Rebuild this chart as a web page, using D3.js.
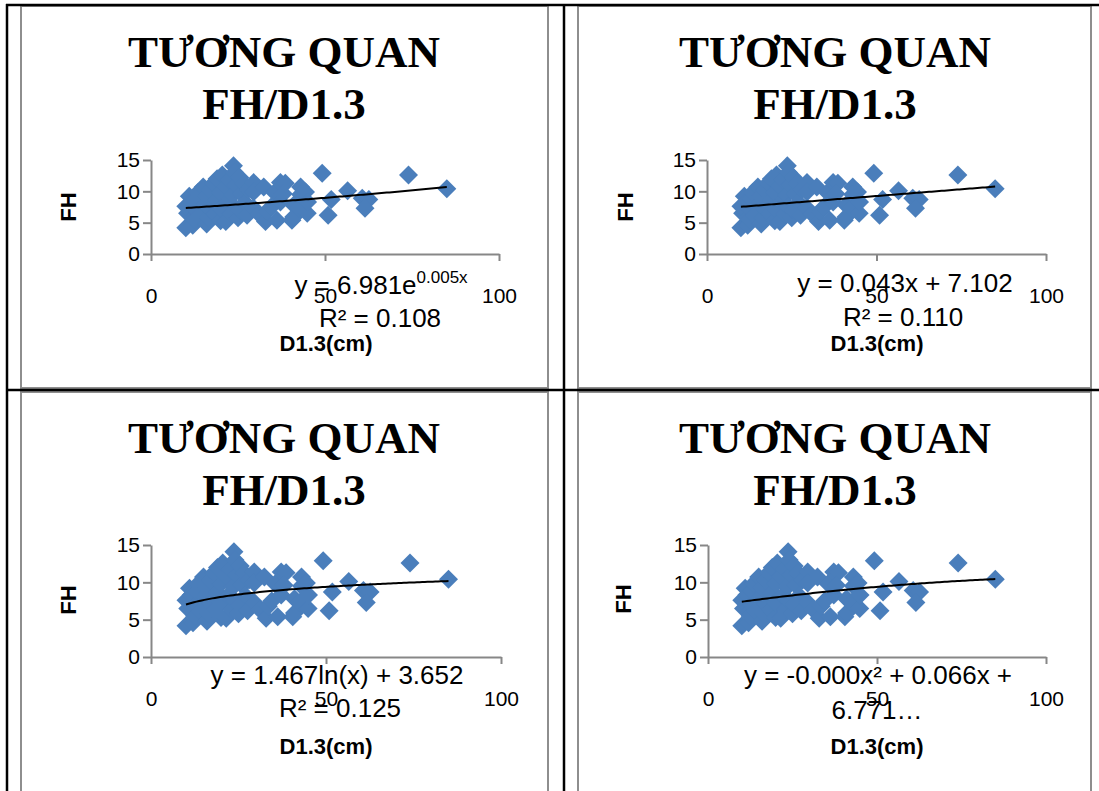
<!DOCTYPE html>
<html>
<head>
<meta charset="utf-8">
<script src="https://cdn.jsdelivr.net/npm/d3@7"></script>
<style>
  html, body { margin: 0; padding: 0; background: #ffffff; }
  svg { display: block; }
</style>
</head>
<body>
<svg id="chart" width="1099" height="791"></svg>
<script>
// ---------------- DATA ----------------
const dVals = [
  10, 10.5, 10, 11, 11.5,
  12, 12.5, 13, 13, 13.5, 14,
  15, 15.5, 16, 16.5, 16, 17, 17,
  18, 18.5, 19, 19, 20, 20, 20.5, 20,
  21.5, 21.5, 22, 22.5, 23, 23.7, 23.5, 24, 24, 24.5,
  25, 25.5, 25.5, 26, 26.6, 27, 27.6, 28,
  29.5, 29.5, 29.5, 31, 32.4, 32.9, 33.5,
  34.5, 35.5, 36.2, 37.2, 37.2, 38.6, 38,
  40.5, 41, 41, 42.5, 43, 43, 44.4, 44.9, 45,
  49.2, 50.9, 51.8,
  56.5, 60.7, 62.6, 61.5, 74, 85
];
const fhVals = [
  4.2, 6.5, 7.6, 9.2, 8.3,
  4.6, 5.5, 7.0, 8.8, 9.8, 6.2,
  10.7, 8.0, 4.8, 5.8, 9.3, 7.2, 10.2,
  11.3, 6.4, 8.6, 12.0, 5.3, 9.8, 12.6, 7.3,
  5.2, 10.8, 8.2, 11.8, 6.4, 14.1, 9.4, 13.0, 7.5, 11.0,
  5.8, 7.0, 12.2, 9.6, 11.3, 8.2, 6.2, 10.3,
  11.4, 7.3, 9.9, 6.4, 10.7, 5.2, 6.8,
  7.5, 9.8, 5.4, 11.4, 8.3, 11.3, 9.6,
  5.4, 7.8, 5.9, 7.3, 10.7, 9.5, 9.9, 6.5, 8.3,
  12.9, 6.2, 8.7,
  10.1, 8.9, 8.7, 7.3, 12.6, 10.4
];
const xTicks = [0, 50, 100];
const yTicks = [0, 5, 10, 15];
const titleLines = ["TƯƠNG QUAN", "FH/D1.3"];
const xAxisTitle = "D1.3(cm)";
const yAxisTitle = "FH";
const trendTypes = ["exp", "linear", "log", "poly"];
const trendCoefs = [[6.981, 0.005], [0.043, 7.102], [1.467, 3.652], [-0.00027, 0.066, 6.771]];
const eqLine1 = [
  [["y = 6.981e", false], ["0.005x", true]],
  [["y = 0.043x + 7.102", false]],
  [["y = 1.467ln(x) + 3.652", false]],
  [["y = -0.000x² + 0.066x +", false]]
];
const eqLine2 = ["R² = 0.108", "R² = 0.110", "R² = 0.125", "6.771…"];

// ---------------- LAYOUT ----------------
const layout = [
  {box: [21, 6, 548, 388],   plot: [151, 499, 254, 160], title: [284, 67, 119],  fh: [68, 207],  xt: [326, 343], eq: [[381, 285], [380, 318]]},
  {box: [578, 6, 1091, 388], plot: [707, 1046, 254, 160], title: [835, 67, 119], fh: [625, 207], xt: [877, 343], eq: [[905, 283], [903, 317]]},
  {box: [21, 392, 548, 800], plot: [151, 501, 657, 545], title: [284, 453, 505], fh: [68, 600],  xt: [326, 746], eq: [[337, 675], [340, 708]]},
  {box: [578, 392, 1091, 800], plot: [708, 1046, 657, 545], title: [835, 453, 505], fh: [623, 599], xt: [877, 746], eq: [[878, 675], [877, 710]]}
];

const svg = d3.select("#chart");
svg.append("rect").attr("width", 1099).attr("height", 791).attr("fill", "#fff");

const grayBorder = "#8e8e8e";
const axisColor = "#878787";
const markerColor = "#4a7ebb";
const sansFont = "'Liberation Sans', Arial, sans-serif";
const serifFont = "'Liberation Serif', 'Times New Roman', serif";

const trendFn = (type, c) => {
  if (type === "exp") return x => c[0] * Math.exp(c[1] * x);
  if (type === "linear") return x => c[0] * x + c[1];
  if (type === "log") return x => c[0] * Math.log(x) + c[1];
  return x => c[0] * x * x + c[1] * x + c[2];
};

const pts = dVals.map((d, i) => ({x: d, y: fhVals[i]}));
const xMin = d3.min(dVals), xMax = d3.max(dVals);

layout.forEach((L, ci) => {
  const g = svg.append("g");
  g.append("rect")
    .attr("x", L.box[0]).attr("y", L.box[1])
    .attr("width", L.box[2] - L.box[0]).attr("height", L.box[3] - L.box[1])
    .attr("fill", "#fff").attr("stroke", grayBorder).attr("stroke-width", 2);

  titleLines.forEach((t, k) => {
    g.append("text")
      .attr("x", L.title[0]).attr("y", L.title[1 + k])
      .attr("text-anchor", "middle")
      .attr("font-family", serifFont).attr("font-weight", "bold")
      .attr("font-size", 45).attr("fill", "#000")
      .text(t);
  });

  const x = d3.scaleLinear().domain([0, 100]).range([L.plot[0], L.plot[1]]);
  const y = d3.scaleLinear().domain([0, 15]).range([L.plot[2], L.plot[3]]);

  const xa = g.append("g").attr("transform", `translate(0,${L.plot[2]})`)
    .call(d3.axisBottom(x).tickValues(xTicks).tickSize(7).tickSizeOuter(0).tickPadding(27).tickFormat(d3.format("d")));
  const ya = g.append("g").attr("transform", `translate(${L.plot[0]},0)`)
    .call(d3.axisLeft(y).tickValues(yTicks).tickSize(8).tickSizeOuter(0).tickPadding(3).tickFormat(d3.format("d")));
  [xa, ya].forEach(a => {
    a.select(".domain").attr("stroke", axisColor).attr("stroke-width", 2);
    a.selectAll(".tick line").attr("stroke", axisColor).attr("stroke-width", 2);
    a.selectAll(".tick text").attr("fill", "#000").attr("font-family", sansFont).attr("font-size", 21);
  });

  g.append("g").selectAll("path").data(pts).enter().append("path")
    .attr("d", d3.symbol(d3.symbolSquare, 180)())
    .attr("transform", d => `translate(${x(d.x)},${y(d.y)}) rotate(45)`)
    .attr("fill", markerColor);

  const f = trendFn(trendTypes[ci], trendCoefs[ci]);
  const samples = d3.range(0, 101).map(i => xMin + (xMax - xMin) * i / 100);
  g.append("path")
    .datum(samples)
    .attr("d", d3.line().x(d => x(d)).y(d => y(f(d))))
    .attr("fill", "none").attr("stroke", "#000").attr("stroke-width", 2);

  g.append("text")
    .attr("transform", `translate(${L.fh[0]},${L.fh[1]}) rotate(-90)`)
    .attr("text-anchor", "middle").attr("dy", "0.35em")
    .attr("font-family", sansFont).attr("font-weight", "bold").attr("font-size", 22)
    .text(yAxisTitle);
  g.append("text")
    .attr("x", L.xt[0]).attr("y", L.xt[1]).attr("dy", "0.35em")
    .attr("text-anchor", "middle")
    .attr("font-family", sansFont).attr("font-weight", "bold").attr("font-size", 22)
    .text(xAxisTitle);

  const e1 = g.append("text")
    .attr("x", L.eq[0][0]).attr("y", L.eq[0][1] + 9)
    .attr("text-anchor", "middle")
    .attr("font-family", sansFont).attr("font-size", 26).attr("fill", "#000");
  eqLine1[ci].forEach(seg => {
    const ts = e1.append("tspan").text(seg[0]);
    if (seg[1]) ts.attr("font-size", 17).attr("baseline-shift", "65%");
  });
  g.append("text")
    .attr("x", L.eq[1][0]).attr("y", L.eq[1][1] + 9)
    .attr("text-anchor", "middle")
    .attr("font-family", sansFont).attr("font-size", 26).attr("fill", "#000")
    .text(eqLine2[ci]);
});

const tbl = svg.append("g").attr("stroke", "#000").attr("stroke-width", 2.5);
tbl.append("line").attr("x1", 7).attr("x2", 7).attr("y1", 4).attr("y2", 791);
tbl.append("line").attr("x1", 564).attr("x2", 564).attr("y1", 4).attr("y2", 791);
tbl.append("line").attr("x1", 6).attr("x2", 1099).attr("y1", 5).attr("y2", 5);
tbl.append("line").attr("x1", 6).attr("x2", 1099).attr("y1", 390).attr("y2", 390);
</script>
</body>
</html>
